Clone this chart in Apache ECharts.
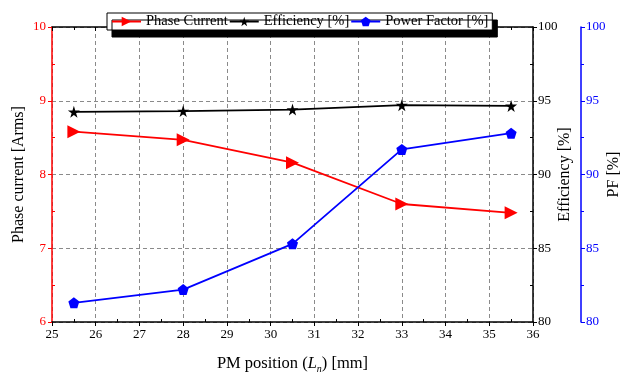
<!DOCTYPE html>
<html>
<head>
<meta charset="utf-8">
<script src="https://cdn.jsdelivr.net/npm/echarts@6/dist/echarts.min.js"></script>
<style>
  html, body { margin: 0; padding: 0; background: #fff; }
  #chart { width: 620px; height: 373px; }
</style>
</head>
<body>
<div id="chart"></div>
<script>
// PM position (mm)
const positions = [25.5, 28, 30.5, 33, 35.5]
// Phase current (Arms)
const phaseCurrent = [8.58, 8.47, 8.16, 7.60, 7.48]
// Efficiency (%)
const efficiency = [94.25, 94.3, 94.4, 94.7, 94.65]
// Power factor (%)
const powerFactor = [81.3, 82.2, 85.3, 91.7, 92.8]

const pair = (vals) => positions.map((x, i) => [x, vals[i]])

const FONT = '"Liberation Serif", "DejaVu Serif", serif'
const dash = { color: '#8a8a8a', type: [4, 3], width: 1 }

const starPath = 'path://M50,0 L61,35 L98,35 L68,57 L79,91 L50,70 L21,91 L32,57 L2,35 L39,35 Z'
const pentPath = 'path://M50,0 L100,38 L81,100 L19,100 L0,38 Z'
const triPath = 'path://M0,0 L100,50 L0,100 Z'

const chart = echarts.init(document.getElementById('chart'))

const xBase = { type: 'value', min: 25, max: 36, interval: 1, gridIndex: 0 }

const option = {
  animation: false,
  textStyle: { fontFamily: FONT },
  grid: { left: 52, right: 87, top: 27, bottom: 51, outerBoundsMode: 'none', containLabel: false },
  legend: {
    left: 107,
    top: 13,
    padding: [1, 4],
    itemGap: 1,
    itemWidth: 29,
    itemHeight: 12,
    backgroundColor: '#fff',
    borderColor: '#000',
    borderWidth: 1,
    shadowColor: '#000',
    shadowBlur: 0,
    shadowOffsetX: 5,
    shadowOffsetY: 7,
    textStyle: { fontFamily: FONT, fontSize: 14.5, color: '#000' },
    data: ['Phase Current', 'Efficiency [%]', 'Power Factor [%]']
  },
  xAxis: [
    {
      ...xBase,
      position: 'bottom',
      name: '{t|PM position (}{i|L}{s|n}{t|) [mm]}',
      nameLocation: 'middle',
      nameGap: 32,
      nameMoveOverlap: false,
      nameTextStyle: {
        rich: {
          t: { fontFamily: FONT, fontSize: 16.5, color: '#000' },
          i: { fontFamily: FONT, fontSize: 16.5, fontStyle: 'italic', color: '#000' },
          s: { fontFamily: FONT, fontSize: 10, fontStyle: 'italic', color: '#000', padding: [10, 0, 0, 0] }
        }
      },
      axisLine: { lineStyle: { color: '#000', width: 1.5 } },
      axisTick: { show: true, inside: false, length: 4, lineStyle: { color: '#000' } },
      axisLabel: { color: '#000', fontSize: 13, fontFamily: FONT, margin: 6 },
      splitLine: { show: true, lineStyle: dash }
    },
    {
      ...xBase,
      position: 'bottom',
      axisLine: { show: false },
      axisTick: { show: false, inside: true },
      minorTick: { show: true, splitNumber: 2, length: 3, lineStyle: { color: '#000' } },
      axisLabel: { show: false },
      splitLine: { show: false }
    },
    {
      ...xBase,
      position: 'top',
      axisLine: { lineStyle: { color: '#000', width: 1.5 } },
      axisTick: { show: true, inside: true, length: 4, lineStyle: { color: '#000' } },
      minorTick: { show: true, splitNumber: 2, length: 3, lineStyle: { color: '#000' } },
      axisLabel: { show: false },
      splitLine: { show: false }
    }
  ],
  yAxis: [
    {
      type: 'value',
      position: 'left',
      min: 6, max: 10, interval: 1,
      name: 'Phase current [Arms]',
      nameLocation: 'middle',
      nameGap: 25,
      nameMoveOverlap: false,
      nameTextStyle: { color: '#000', fontSize: 16, fontFamily: FONT },
      axisLine: { show: true, lineStyle: { color: '#ff0000', width: 1.5 } },
      axisTick: { show: true, inside: false, length: 4, lineStyle: { color: '#ff0000' } },
      axisLabel: { color: '#ff0000', fontSize: 13, fontFamily: FONT, margin: 6 },
      splitLine: { show: true, lineStyle: dash }
    },
    {
      type: 'value',
      position: 'right',
      min: 80, max: 100, interval: 5,
      name: 'Efficiency [%]',
      nameLocation: 'middle',
      nameGap: 24,
      nameRotate: 90,
      nameMoveOverlap: false,
      nameTextStyle: { color: '#000', fontSize: 16, fontFamily: FONT },
      axisLine: { show: true, lineStyle: { color: '#000', width: 1.5 } },
      axisTick: { show: true, inside: false, length: 4, lineStyle: { color: '#000' } },
      axisLabel: { color: '#000', fontSize: 13, fontFamily: FONT, margin: 5 },
      splitLine: { show: false }
    },
    {
      type: 'value',
      position: 'right',
      offset: 48,
      min: 80, max: 100, interval: 5,
      name: 'PF [%]',
      nameLocation: 'middle',
      nameGap: 25,
      nameRotate: 90,
      nameMoveOverlap: false,
      nameTextStyle: { color: '#000', fontSize: 16, fontFamily: FONT },
      axisLine: { show: true, lineStyle: { color: '#0000ff', width: 1.5 } },
      axisTick: { show: true, inside: false, length: 4, lineStyle: { color: '#0000ff' } },
      minorTick: { show: true, splitNumber: 2, length: 3, lineStyle: { color: '#0000ff' } },
      axisLabel: { color: '#0000ff', fontSize: 13, fontFamily: FONT, margin: 5 },
      splitLine: { show: false }
    },
    {
      type: 'value',
      position: 'left',
      min: 6, max: 10, interval: 1,
      axisLine: { show: false },
      axisTick: { show: false, inside: true },
      minorTick: { show: true, splitNumber: 2, length: 3, lineStyle: { color: '#ff0000' } },
      axisLabel: { show: false },
      splitLine: { show: false }
    },
    {
      type: 'value',
      position: 'right',
      min: 80, max: 100, interval: 5,
      axisLine: { show: false },
      axisTick: { show: false, inside: true },
      minorTick: { show: true, splitNumber: 2, length: 3, lineStyle: { color: '#000' } },
      axisLabel: { show: false },
      splitLine: { show: false }
    }
  ],
  series: [
    {
      name: 'Phase Current',
      type: 'line',
      xAxisIndex: 0,
      yAxisIndex: 0,
      symbol: triPath,
      symbolSize: 13,
      itemStyle: { color: '#ff0000' },
      lineStyle: { color: '#ff0000', width: 1.8 },
      data: pair(phaseCurrent)
    },
    {
      name: 'Efficiency [%]',
      type: 'line',
      xAxisIndex: 0,
      yAxisIndex: 1,
      symbol: starPath,
      symbolSize: 12,
      itemStyle: { color: '#000' },
      lineStyle: { color: '#000', width: 1.8 },
      data: pair(efficiency)
    },
    {
      name: 'Power Factor [%]',
      type: 'line',
      xAxisIndex: 0,
      yAxisIndex: 2,
      symbol: pentPath,
      symbolSize: 11,
      itemStyle: { color: '#0000ff' },
      lineStyle: { color: '#0000ff', width: 1.8 },
      data: pair(powerFactor)
    }
  ]
}

chart.setOption(option)
</script>
</body>
</html>
